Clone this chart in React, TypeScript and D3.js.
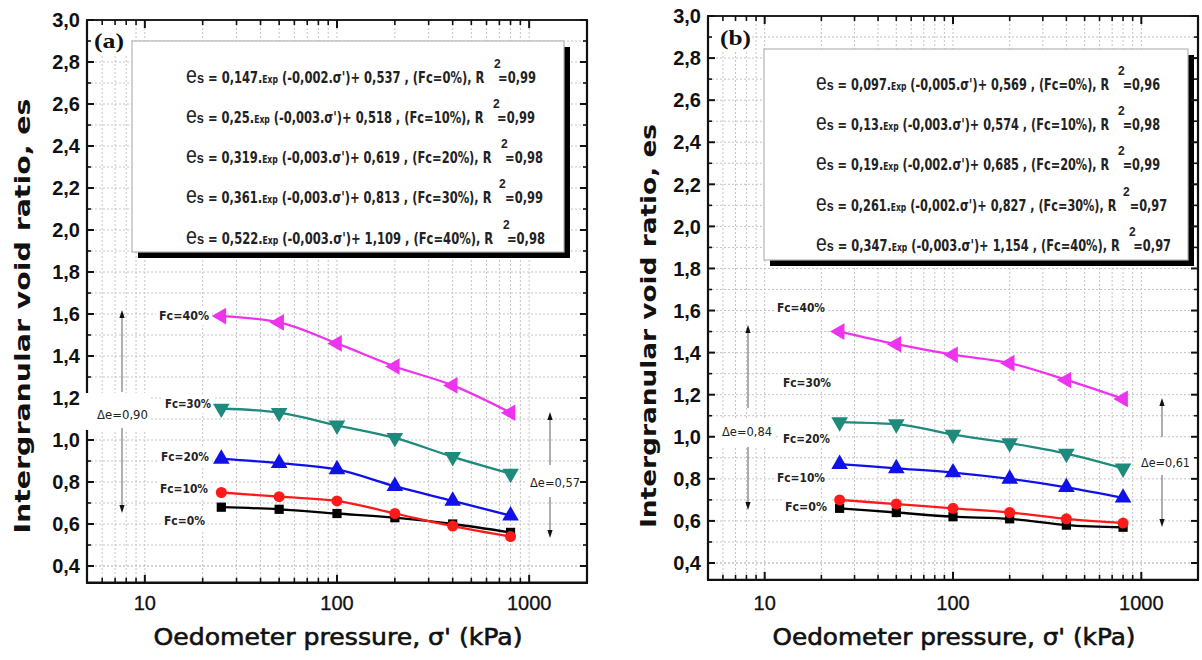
import React, { useEffect } from "react";
import * as d3 from "d3";

// ---------- data ----------
const PRESSURE = [25, 50, 100, 200, 400, 800];
const FC_LABELS = ["Fc=0%", "Fc=10%", "Fc=20%", "Fc=30%", "Fc=40%"];

const A_FC0 = [0.68, 0.67, 0.65, 0.63, 0.6, 0.56];
const A_FC10 = [0.75, 0.73, 0.71, 0.65, 0.59, 0.54];
const A_FC20 = [0.91, 0.89, 0.86, 0.78, 0.71, 0.64];
const A_FC30 = [1.15, 1.13, 1.07, 1.01, 0.92, 0.84];
const A_FC40 = [1.59, 1.56, 1.46, 1.35, 1.26, 1.13];

const B_FC0 = [0.66, 0.64, 0.62, 0.61, 0.58, 0.57];
const B_FC10 = [0.7, 0.68, 0.66, 0.64, 0.61, 0.59];
const B_FC20 = [0.87, 0.85, 0.83, 0.8, 0.76, 0.71];
const B_FC30 = [1.07, 1.06, 1.01, 0.97, 0.92, 0.85];
const B_FC40 = [1.5, 1.44, 1.39, 1.35, 1.27, 1.18];

const Y_TICKS = [0.4, 0.6, 0.8, 1.0, 1.2, 1.4, 1.6, 1.8, 2.0, 2.2, 2.4, 2.6, 2.8, 3.0];
const Y_TICK_LABELS = ["0,4", "0,6", "0,8", "1,0", "1,2", "1,4", "1,6", "1,8", "2,0", "2,2", "2,4", "2,6", "2,8", "3,0"];
const Y_MINOR = [0.5, 0.7, 0.9, 1.1, 1.3, 1.5, 1.7, 1.9, 2.1, 2.3, 2.5, 2.7, 2.9];
const X_TICKS = [10, 100, 1000];
const X_TICK_LABELS = ["10", "100", "1000"];
const X_MINOR = [6, 7, 8, 9, 20, 30, 40, 50, 60, 70, 80, 90, 200, 300, 400, 500, 600, 700, 800, 900, 2000];

const A_COEF_A = ["0,147", "0,25", "0,319", "0,361", "0,522"];
const A_COEF_K = ["-0,002", "-0,003", "-0,003", "-0,003", "-0,003"];
const A_COEF_C = ["0,537", "0,518", "0,619", "0,813", "1,109"];
const A_R2 = ["0,99", "0,99", "0,98", "0,99", "0,98"];

const B_COEF_A = ["0,097", "0,13", "0,19", "0,261", "0,347"];
const B_COEF_K = ["-0,005", "-0,003", "-0,002", "-0,002", "-0,003"];
const B_COEF_C = ["0,569", "0,574", "0,685", "0,827", "1,154"];
const B_R2 = ["0,96", "0,98", "0,99", "0,97", "0,97"];

const A_DELTA = ["Δe=0,90", "Δe=0,57"];
const B_DELTA = ["Δe=0,84", "Δe=0,61"];

// ---------- styles ----------
const COLORS = ["#000000", "#ff1a1a", "#1010e8", "#1e8a7c", "#ee33ee"];
const MARKERS = ["square", "circle", "up", "down", "left"];

const LAYOUT = [
  {
    tag: "(a)",
    xr: [87, 587],
    yr: [566, 20],
    series: [A_FC0, A_FC10, A_FC20, A_FC30, A_FC40],
    coefA: A_COEF_A, coefK: A_COEF_K, coefC: A_COEF_C, r2: A_R2,
    delta: A_DELTA,
    box: { x: 132, y: 41, w: 432, h: 211 },
    legX: 186,
    legEnds: [536, 535, 543, 543, 545],
    legBase: [83, 123, 163, 203, 244],
    tagPos: { x: 94, y: 48, w: 30 },
    fcLab: [
      { x: 164, y: 521, w: 41 },
      { x: 160, y: 489, w: 48 },
      { x: 161, y: 457, w: 48 },
      { x: 165, y: 404, w: 46 },
      { x: 159, y: 316, w: 50 },
    ],
    deltaL: { x: 97, y: 415, w: 51, ax: 122, up: [392, 310], dn: [428, 513], mask: [80, 393, 70, 37] },
    deltaR: { x: 530, y: 483, w: 50, ax: 550, up: [465, 412], dn: [497, 538], mask: [525, 471, 58, 25] },
    ytitle: { x: 22, y: 316, len: 435 },
    xtitle: { x: 338, y: 645, len: 369 },
  },
  {
    tag: "(b)",
    xr: [708, 1198],
    yr: [563, 16],
    series: [B_FC0, B_FC10, B_FC20, B_FC30, B_FC40],
    coefA: B_COEF_A, coefK: B_COEF_K, coefC: B_COEF_C, r2: B_R2,
    delta: B_DELTA,
    box: { x: 764, y: 49, w: 424, h: 211 },
    legX: 816,
    legEnds: [1160, 1160, 1160, 1167, 1171],
    legBase: [90, 130, 170, 211, 251],
    tagPos: { x: 720, y: 45, w: 31 },
    fcLab: [
      { x: 785, y: 507, w: 42 },
      { x: 777, y: 478, w: 48 },
      { x: 783, y: 439, w: 47 },
      { x: 783, y: 383, w: 48 },
      { x: 777, y: 308, w: 48 },
    ],
    deltaL: { x: 722, y: 432, w: 50, ax: 748, up: [408, 325], dn: [447, 510], mask: [712, 418, 64, 28] },
    deltaR: { x: 1141, y: 463, w: 49, ax: 1162, up: [437, 398], dn: [475, 527], mask: [1136, 451, 58, 25] },
    ytitle: { x: 648, y: 326, len: 404 },
    xtitle: { x: 954, y: 645, len: 363 },
  },
];

function markerPath(kind: string) {
  if (kind === "circle") return d3.symbol(d3.symbolCircle, 95)() as string;
  if (kind === "square") return d3.symbol(d3.symbolSquare, 85)() as string;
  return d3.symbol(d3.symbolTriangle, 120)() as string;
}
function markerRot(kind: string) {
  if (kind === "down") return 180;
  if (kind === "left") return -90;
  return 0;
}

function Arrow({ x, y1, y2 }: { x: number; y1: number; y2: number }) {
  const dir = y2 < y1 ? -1 : 1;
  const hy = y2;
  return (
    <g>
      <line x1={x} x2={x} y1={y1} y2={y2 - dir * 6} stroke="#9a9a9a" strokeWidth={1.6} />
      <path d={`M${x},${hy} L${x - 2.6},${hy - dir * 8} L${x + 2.6},${hy - dir * 8} Z`} fill="#111" />
    </g>
  );
}

function Panel({ p }: { p: any }) {
  const x = d3.scaleLog().domain([5, 2000]).range(p.xr);
  const y = d3.scaleLinear().domain([0.4, 3.0]).range(p.yr);
  const left = p.xr[0], right = p.xr[1];
  const top = y(3.0), bottom = y(0.32);
  const gridY = [0.4, ...Y_MINOR, ...Y_TICKS].filter((v) => v < 2.99);
  const gridX = [...X_MINOR, ...X_TICKS];
  const line = d3.line<number>().x((_, i) => x(PRESSURE[i])).y((d) => y(d)).curve(d3.curveMonotoneX);
  const bold = "'Liberation Sans', Arial, sans-serif";
  const comic = "'DejaVu Sans', Verdana, sans-serif";
  const broken = p.deltaL.mask[0] < left;

  return (
    <g>
      {/* grid */}
      {gridY.map((v, i) => (
        <line key={"gy" + i} x1={left} x2={right} y1={y(v)} y2={y(v)} stroke="#c4c4c4" strokeWidth={1} strokeDasharray="2,2" />
      ))}
      {gridX.map((v, i) => (
        <line key={"gx" + i} x1={x(v)} x2={x(v)} y1={top} y2={bottom} stroke="#c4c4c4" strokeWidth={1} strokeDasharray="2,2" />
      ))}

      {/* panel tag mask */}
      <rect x={left + 2} y={top + 2} width={p.tagPos.w + 10} height={34} fill="#fff" />

      {/* legend box */}
      <rect x={p.box.x + 6} y={p.box.y + 6} width={p.box.w} height={p.box.h} fill="#000" />
      <rect x={p.box.x} y={p.box.y} width={p.box.w} height={p.box.h} fill="#fff" stroke="#b5b5b5" strokeWidth={1.2} />
      {p.coefA.map((a: string, i: number) => (
        <g key={"leg" + i}>
          <text
            x={p.legX}
            y={p.legBase[i]}
            textLength={p.legEnds[i] - p.legX}
            lengthAdjust="spacingAndGlyphs"
            fontFamily="'Liberation Sans Narrow', 'DejaVu Sans Condensed', 'Liberation Sans', sans-serif"
            fontWeight="bold"
            fontSize={15}
            fill="#222"
          >
            <tspan fontSize={23} fontWeight="normal" fontFamily="'Liberation Sans', sans-serif">e</tspan>
            <tspan fontSize={15} fontFamily="'Liberation Sans', sans-serif">s</tspan>
            <tspan>{(i === 4 ? "  = " : " = ") + a + "."}</tspan>
            <tspan fontSize={10}>Exp</tspan>
            <tspan>{" (" + p.coefK[i] + ".σ')+ " + p.coefC[i] + " , (" + FC_LABELS[i] + "), R"}</tspan>
            <tspan dx={16}>{"=" + p.r2[i]}</tspan>
          </text>
        </g>
      ))}
      {p.coefA.map((_: string, i: number) => (
        <text key={"sup" + i} x={p.legEnds[i] - (i === 3 ? 44 : 42)} y={p.legBase[i] - 15}
          fontFamily="'Liberation Sans', sans-serif" fontWeight="bold" fontSize={12} fill="#222">2</text>
      ))}

      {/* masks behind annotations */}
      {p.fcLab.map((f: any, i: number) => (
        <rect key={"fm" + i} x={f.x - 3} y={f.y - 9} width={f.w + 6} height={18} fill="#fff" />
      ))}
      <rect x={p.deltaL.mask[0]} y={p.deltaL.mask[1]} width={p.deltaL.mask[2]} height={p.deltaL.mask[3]} fill="#fff" />
      <rect x={p.deltaR.mask[0]} y={p.deltaR.mask[1]} width={p.deltaR.mask[2]} height={p.deltaR.mask[3]} fill="#fff" />

      {/* frame */}
      <line x1={left} x2={left} y1={top} y2={broken ? p.deltaL.mask[1] : bottom} stroke="#111" strokeWidth={2.2} />
      {broken && (
        <line x1={left} x2={left} y1={p.deltaL.mask[1] + p.deltaL.mask[3]} y2={bottom} stroke="#111" strokeWidth={2.2} />
      )}
      <line x1={right} x2={right} y1={top} y2={bottom} stroke="#111" strokeWidth={2.2} />
      <line x1={left - 1} x2={right + 1} y1={top} y2={top} stroke="#222" strokeWidth={2} />
      <line x1={left - 1} x2={right + 1} y1={bottom} y2={bottom} stroke="#111" strokeWidth={2.4} />

      {/* ticks */}
      {Y_TICKS.map((v, i) => {
        const yy = y(v);
        const hidden = broken && yy > p.deltaL.mask[1] && yy < p.deltaL.mask[1] + p.deltaL.mask[3];
        return (
          <g key={"yt" + i}>
            {!hidden && <line x1={left} x2={left + 7} y1={yy} y2={yy} stroke="#111" strokeWidth={2} />}
            <line x1={right} x2={right - 7} y1={yy} y2={yy} stroke="#111" strokeWidth={2} />
            <text x={left - 7} y={yy} dy="0.36em" textAnchor="end" fontFamily={bold} fontWeight="bold" fontSize={20} fill="#111">
              {Y_TICK_LABELS[i]}
            </text>
          </g>
        );
      })}
      {Y_MINOR.map((v, i) => {
        const yy = y(v);
        const hidden = broken && yy > p.deltaL.mask[1] && yy < p.deltaL.mask[1] + p.deltaL.mask[3];
        return (
          <g key={"ym" + i}>
            {!hidden && <line x1={left} x2={left + 4} y1={yy} y2={yy} stroke="#111" strokeWidth={1.6} />}
            <line x1={right} x2={right - 4} y1={yy} y2={yy} stroke="#111" strokeWidth={1.6} />
          </g>
        );
      })}
      {X_TICKS.map((v, i) => (
        <g key={"xt" + i}>
          <line x1={x(v)} x2={x(v)} y1={bottom} y2={bottom - 8} stroke="#111" strokeWidth={2} />
          <line x1={x(v)} x2={x(v)} y1={top} y2={top + 8} stroke="#111" strokeWidth={2} />
          <text x={x(v)} y={610} textAnchor="middle" fontFamily={bold} fontSize={20} fill="#111" stroke="#111" strokeWidth={0.3}>
            {X_TICK_LABELS[i]}
          </text>
        </g>
      ))}
      {X_MINOR.map((v, i) => (
        <g key={"xm" + i}>
          <line x1={x(v)} x2={x(v)} y1={bottom} y2={bottom - 5} stroke="#111" strokeWidth={1.6} />
          <line x1={x(v)} x2={x(v)} y1={top} y2={top + 5} stroke="#111" strokeWidth={1.6} />
        </g>
      ))}

      {/* series */}
      {p.series.map((s: number[], si: number) => (
        <g key={"s" + si}>
          <path d={line(s) as string} fill="none" stroke={COLORS[si]} strokeWidth={2.3} />
          {s.map((v, i) => (
            <path
              key={i}
              d={markerPath(MARKERS[si])}
              transform={`translate(${x(PRESSURE[i])},${y(v)}) rotate(${markerRot(MARKERS[si])})`}
              fill={COLORS[si]}
            />
          ))}
        </g>
      ))}

      {/* annotations */}
      {p.fcLab.map((f: any, i: number) => (
        <text key={"fl" + i} x={f.x} y={f.y} dy="0.35em" textLength={f.w} lengthAdjust="spacingAndGlyphs"
          fontFamily={comic} fontWeight="bold" fontSize={12} fill="#222">
          {FC_LABELS[i]}
        </text>
      ))}
      <text x={p.deltaL.x} y={p.deltaL.y} dy="0.35em" textLength={p.deltaL.w} lengthAdjust="spacingAndGlyphs"
        fontFamily={comic} fontSize={12} fill="#222">{p.delta[0]}</text>
      <text x={p.deltaR.x} y={p.deltaR.y} dy="0.35em" textLength={p.deltaR.w} lengthAdjust="spacingAndGlyphs"
        fontFamily={comic} fontSize={12} fill="#222">{p.delta[1]}</text>
      <Arrow x={p.deltaL.ax} y1={p.deltaL.up[0]} y2={p.deltaL.up[1]} />
      <Arrow x={p.deltaL.ax} y1={p.deltaL.dn[0]} y2={p.deltaL.dn[1]} />
      <Arrow x={p.deltaR.ax} y1={p.deltaR.up[0]} y2={p.deltaR.up[1]} />
      <Arrow x={p.deltaR.ax} y1={p.deltaR.dn[0]} y2={p.deltaR.dn[1]} />

      {/* tag */}
      <text x={p.tagPos.x} y={p.tagPos.y} textLength={p.tagPos.w} lengthAdjust="spacingAndGlyphs"
        fontFamily="'Liberation Serif', 'Times New Roman', serif" fontWeight="bold" fontSize={22} fill="#111">{p.tag}</text>

      {/* titles */}
      <text transform={`translate(${p.ytitle.x},${p.ytitle.y}) rotate(-90)`} textAnchor="middle" dy="0.35em"
        textLength={p.ytitle.len} lengthAdjust="spacingAndGlyphs"
        fontFamily={comic} fontWeight="bold" fontSize={22} fill="#111">
        Intergranular void ratio, es
      </text>
      <text x={p.xtitle.x} y={p.xtitle.y} textAnchor="middle" textLength={p.xtitle.len} lengthAdjust="spacingAndGlyphs"
        fontFamily={comic} fontSize={23} fill="#111" stroke="#111" strokeWidth={0.6}>
        Oedometer pressure, σ' (kPa)
      </text>
    </g>
  );
}

export default function App() {
  useEffect(() => {
    document.body.style.margin = "0";
  }, []);
  return (
    <svg width={1202} height={660} style={{ display: "block", background: "#fff" }}>
      {LAYOUT.map((p, i) => (
        <Panel key={i} p={p} />
      ))}
    </svg>
  );
}
